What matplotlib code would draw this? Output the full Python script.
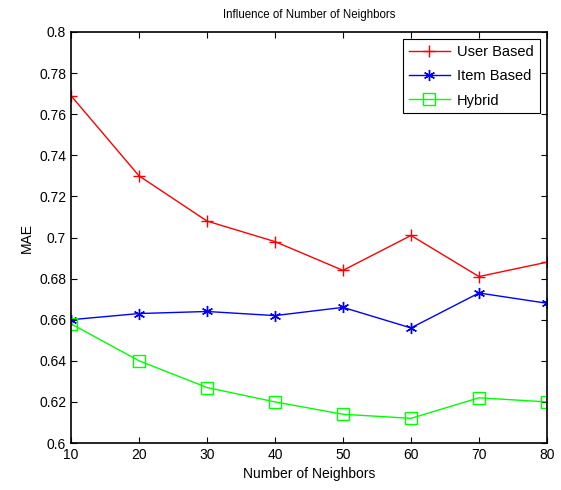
import matplotlib
matplotlib.use('Agg')
import matplotlib.pyplot as plt

neighbors = [10, 20, 30, 40, 50, 60, 70, 80]
user_based = [0.769, 0.730, 0.708, 0.698, 0.684, 0.701, 0.681, 0.688]
item_based = [0.660, 0.663, 0.664, 0.662, 0.666, 0.656, 0.673, 0.668]
hybrid = [0.658, 0.640, 0.627, 0.620, 0.614, 0.612, 0.622, 0.620]

plt.rcParams['font.family'] = ['Liberation Sans', 'DejaVu Sans']
plt.rcParams['font.size'] = 10

fig = plt.figure(figsize=(5.61, 4.9), dpi=100)
ax = fig.add_axes([0.1266, 0.0959, 0.8484, 0.8388])

ax.plot(neighbors, user_based, color='red', marker='+', markersize=9, lw=1, label='User Based')
ax.plot(neighbors, item_based, color='blue', marker=(6, 2, 0), markersize=8, mew=1, lw=1, label='Item Based')
ax.plot(neighbors, hybrid, color='#00ff00', marker='s', markersize=8, mfc='none', lw=1, label='Hybrid')

ax.set_xlim(10, 80)
ax.set_ylim(0.6, 0.8)
ax.set_xticks(neighbors)
yt = [0.6, 0.62, 0.64, 0.66, 0.68, 0.7, 0.72, 0.74, 0.76, 0.78, 0.8]
ax.set_yticks(yt)
ax.set_yticklabels([('%g' % v) for v in yt])
ax.tick_params(direction='in', top=True, right=True, length=4, width=0.8, labelsize=10)
for s in ax.spines.values():
    s.set_linewidth(1.2)

ax.set_title('Influence of Number of Neighbors', fontsize=8.3, pad=10)
ax.set_xlabel('Number of Neighbors', fontsize=10)
ax.set_ylabel('MAE', fontsize=10)

leg = ax.legend(loc='upper right', fancybox=False, edgecolor='black', framealpha=1,
                fontsize=10.5, handlelength=2.8, handletextpad=0.5, labelspacing=0.7,
                borderaxespad=0.5)
leg.get_frame().set_linewidth(0.8)

fig.savefig('out.png', dpi=100)
